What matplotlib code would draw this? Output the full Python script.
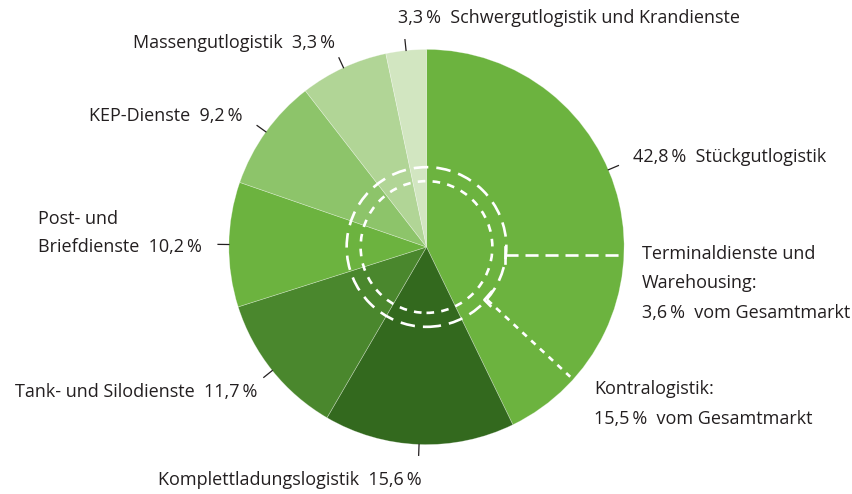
import numpy as np
import matplotlib
matplotlib.use("Agg")
from matplotlib import pyplot as plt
from matplotlib.patches import Circle

plt.rcParams["lines.scale_dashes"] = False

# shares of the slices, clockwise from 12 o'clock
segments = ["Stückgutlogistik", "Komplettladungslogistik", "Tank- und Silodienste",
            "Post- und Briefdienste", "KEP-Dienste", "Massengutlogistik",
            "Schwergutlogistik und Krandienste"]
shares = [42.8, 15.6, 11.7, 10.2, 9.2, 7.2, 3.3]
label_texts = ["42,8\u2009%  Stückgutlogistik",
               "Komplettladungslogistik  15,6\u2009%",
               "Tank- und Silodienste  11,7\u2009%",
               "Post- und\nBriefdienste  10,2\u2009%",
               "KEP-Dienste  9,2\u2009%",
               "Massengutlogistik  3,3\u2009%",
               "3,3\u2009%  Schwergutlogistik und Krandienste"]
terminal_text = "Terminaldienste und\nWarehousing:\n3,6\u2009%  vom Gesamtmarkt"
kontra_text = "Kontralogistik:\n15,5\u2009%  vom Gesamtmarkt"

colors = ["#6cb33f", "#33691e", "#4a872d", "#6cb33f", "#8dc46a", "#b1d596", "#d2e6c1"]
text_color = "#231f20"

W, H = 853, 494
CX, CY, R = 426, 250, 198  # pie centre / radius in pixels


def px(x, y):
    """image pixel -> data coordinates (pie radius = 1)"""
    return (x - CX) / R, (CY - y) / R


fig = plt.figure(figsize=(W / 100, H / 100), dpi=100)
ax = fig.add_axes([0, 0, 1, 1])
ax.set_xlim(-CX / R, (W - CX) / R)
ax.set_ylim((CY - H) / R, CY / R)
ax.axis("off")

wedges, _ = ax.pie(shares, colors=colors, startangle=90, counterclock=False,
                   radius=1, wedgeprops=dict(edgecolor=(1, 1, 1, 0.35), linewidth=0.5))

font = dict(family=["Open Sans", "DejaVu Sans"], size=13.0, color=text_color)
# (x, baseline of last line, anchor)
label_pos = [(633, 165, "left"), (421, 488, "right"), (257, 400, "right"),
             (37, 255, "left"), (242, 124, "right"), (334, 51, "right"),
             (397, 26, "left")]
# leader ticks at the middle of each slice (Stückgut tick sits higher)
for i, w in enumerate(wedges):
    ang = np.deg2rad((w.theta1 + w.theta2) / 2)
    if i == 0:
        ang = np.deg2rad(23)
    r0, r1 = 1.0, 1.055
    ax.plot([r0 * np.cos(ang), r1 * np.cos(ang)], [r0 * np.sin(ang), r1 * np.sin(ang)],
            color=text_color, lw=0.9)
    x, y, ha = label_pos[i]
    ax.text(*px(x, y), label_texts[i], ha=ha, va="baseline", linespacing=1.72, **font)

# inner dashed circles
ax.add_patch(Circle((0, 0), 80 / R, fill=False, ec="white", lw=1.9,
                    linestyle=(0, (10.5, 5.8)), zorder=3))
ax.add_patch(Circle((0, 0), 66 / R, fill=False, ec="white", lw=1.9,
                    linestyle=(0, (5.5, 5.2)), zorder=3))

# Terminaldienste: dashed line with T cap
ax.plot(*zip(px(505, 258), px(623, 258)), color="white", lw=1.9,
        linestyle=(0, (9.4, 5.0)), zorder=3)
ax.plot(*zip(px(505, 250), px(505, 266)), color="white", lw=1.9, zorder=3)

# Kontralogistik: short dashes with open cap
ax.plot(*zip(px(487, 303), px(570, 380)), color="white", lw=1.9,
        linestyle=(0, (4.3, 4.3)), zorder=3)
ax.plot(*zip(px(491, 295), px(484, 303), px(490, 309)), color="white", lw=1.9, zorder=3)

ax.text(*px(642, 321), terminal_text, ha="left", va="baseline", linespacing=1.82, **font)
ax.text(*px(594, 427), kontra_text, ha="left", va="baseline", linespacing=1.82, **font)

fig.savefig("out.png", dpi=100)
